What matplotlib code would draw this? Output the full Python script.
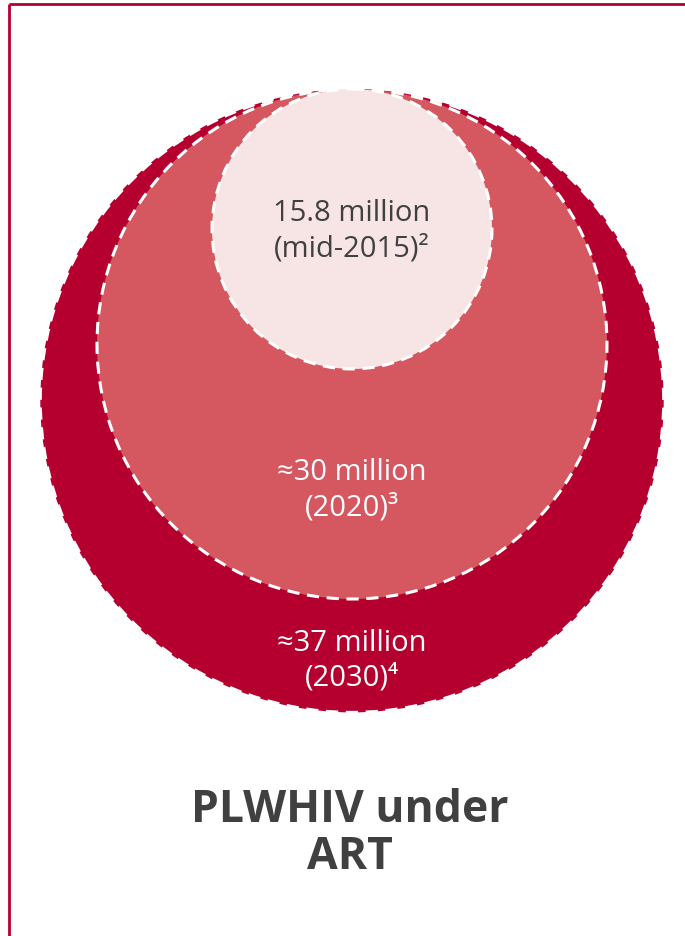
import matplotlib
matplotlib.use("Agg")
import matplotlib.pyplot as plt
from matplotlib.patches import Circle

plt.rcParams['font.family'] = ['Open Sans', 'DejaVu Sans']

# Data
values = [37, 30, 15.8]
labels = ["≈37 million", "≈30 million", "15.8 million"]
periods = ["(2030)⁴", "(2020)³", "(mid-2015)²"]
title = "PLWHIV under\nART"

# Styling
fills = ["#B5002F", "#D5575F", "#F7E4E5"]
text_colors = ["white", "white", "#404040"]
crimson = "#B5002F"

W, H = 685, 937
fig = plt.figure(figsize=(W / 100, H / 100), dpi=100)
ax = fig.add_axes([0, 0, 1, 1])
ax.set_xlim(0, W)
ax.set_ylim(H, 0)
ax.axis("off")

# frame lines (left and top)
ax.plot([9, 9], [H, 5], color=crimson, lw=2, solid_capstyle="butt")
ax.plot([9, W], [5, 5], color=crimson, lw=2, solid_capstyle="butt")

# radius scale: value -> pixel radius
def radius(v):
    return 12.0 + 8.1 * v

cx, top = 352, 90
label_offsets = [0.83, 0.568, 0.005]  # text position below center, relative to radius
for v, lab, per, fc, tc, off in zip(values, labels, periods, fills, text_colors, label_offsets):
    r = radius(v)
    cy = top + r
    ax.add_patch(Circle((cx, cy), r, facecolor=fc, edgecolor="white",
                        lw=2.2, linestyle=(0, (4, 2.5))))
    ty = cy + off * r
    ax.text(cx, ty - 17, lab, ha="center", va="center", fontsize=21, color=tc)
    ax.text(cx, ty + 18, per, ha="center", va="center", fontsize=21, color=tc)

ax.text(350, 834, title, ha="center", va="center", fontsize=32,
        fontweight="bold", color="#404040", linespacing=1.05)

fig.savefig("out.png", dpi=100)
